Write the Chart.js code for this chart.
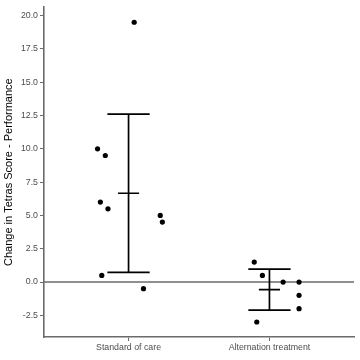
<!DOCTYPE html>
<html>
<head>
<meta charset="utf-8">
<script src="https://cdn.jsdelivr.net/npm/chart.js@4"></script>
<style>
  html, body { margin: 0; padding: 0; background: #fff; }
  #wrap { width: 360px; height: 360px; }
</style>
</head>
<body>
<div id="wrap"><canvas id="grafico"></canvas></div>
<script>
// categorias e valores
const categories = ["Standard of care", "Alternation treatment"];
const standardValues = [19.5, 10, 9.5, 6, 5.5, 5, 4.5, 0.5, -0.5];
const standardJitter = [0.04, -0.22, -0.165, -0.2, -0.146, 0.225, 0.24, -0.19, 0.106];
const alternationValues = [1.5, 0.5, 0, 0, -1, -2, -3];
const alternationJitter = [-0.108, -0.05, 0.097, 0.21, 0.21, 0.21, -0.09];
const yTicks = [-2.5, 0, 2.5, 5, 7.5, 10, 12.5, 15, 17.5, 20];

// média e desvio padrão de cada grupo
function stats(vals) {
    const m = vals.reduce((a, b) => a + b, 0) / vals.length;
    const sd = Math.sqrt(vals.reduce((a, b) => a + (b - m) ** 2, 0) / (vals.length - 1));
    return { m, lo: m - sd, hi: m + sd };
}

// barras de erro como segmentos de linha
function errorBar(c, vals) {
    const s = stats(vals);
    const w = 0.15, wm = 0.075;
    return [
        { x: c - w, y: s.hi }, { x: c + w, y: s.hi }, { x: c, y: null },
        { x: c, y: s.hi }, { x: c, y: s.lo }, { x: c, y: null },
        { x: c - w, y: s.lo }, { x: c + w, y: s.lo }, { x: c, y: null },
        { x: c - wm, y: s.m }, { x: c + wm, y: s.m }
    ];
}

const pontos = standardValues.map((v, i) => ({ x: 1 + standardJitter[i], y: v }))
    .concat(alternationValues.map((v, i) => ({ x: 2 + alternationJitter[i], y: v })));

const dados = {
    datasets: [
        {
            data: errorBar(1, standardValues).concat([{ x: 1, y: null }], errorBar(2, alternationValues)),
            showLine: true,
            spanGaps: false,
            borderColor: "#000",
            borderWidth: 1.7,
            pointRadius: 0,
            order: 0
        },
        {
            data: pontos,
            backgroundColor: "#000",
            borderWidth: 0,
            pointRadius: 2.6,
            order: 1
        },
        {
            data: [{ x: 0.4, y: 0 }, { x: 2.6, y: 0 }],
            showLine: true,
            borderColor: "#6b6b6b",
            borderWidth: 1.6,
            pointRadius: 0,
            order: 2
        }
    ]
};

const config = {
    type: "scatter",
    data: dados,
    options: {
        responsive: true,
        maintainAspectRatio: false,
        animation: false,
        layout: { padding: { left: 0, right: 6, top: 5, bottom: 0 } },
        plugins: {
            legend: { display: false },
            tooltip: { enabled: false }
        },
        scales: {
            x: {
                type: "linear",
                min: 0.4,
                max: 2.6,
                afterBuildTicks: s => { s.ticks = [{ value: 1 }, { value: 2 }]; },
                afterFit: s => { s.height = 23; },
                ticks: {
                    callback: v => categories[v - 1],
                    color: "#4d4d4d",
                    font: { family: "Liberation Sans", size: 8.8 },
                    padding: 1,
                    maxRotation: 0
                },
                grid: { drawOnChartArea: false, drawTicks: true, tickLength: 4, color: "#6b6b6b", lineWidth: 1 },
                border: { display: true, color: "#6b6b6b", width: 1.6 }
            },
            y: {
                min: -4.125,
                max: 20.625,
                afterBuildTicks: s => { s.ticks = yTicks.map(v => ({ value: v })); },
                afterFit: s => { s.width = 44; },
                ticks: {
                    callback: v => v.toFixed(1),
                    color: "#4d4d4d",
                    font: { family: "Liberation Sans", size: 8.8 },
                    padding: 2
                },
                grid: { drawOnChartArea: false, drawTicks: true, tickLength: 4, color: "#6b6b6b", lineWidth: 1 },
                border: { display: true, color: "#6b6b6b", width: 1.6 },
                title: {
                    display: true,
                    text: "Change in Tetras Score - Performance",
                    color: "#000",
                    font: { family: "Liberation Sans", size: 11 },
                    padding: { top: 2, bottom: 0 }
                }
            }
        }
    }
};

const meuGrafico = new Chart(document.getElementById("grafico"), config);
</script>
</body>
</html>
